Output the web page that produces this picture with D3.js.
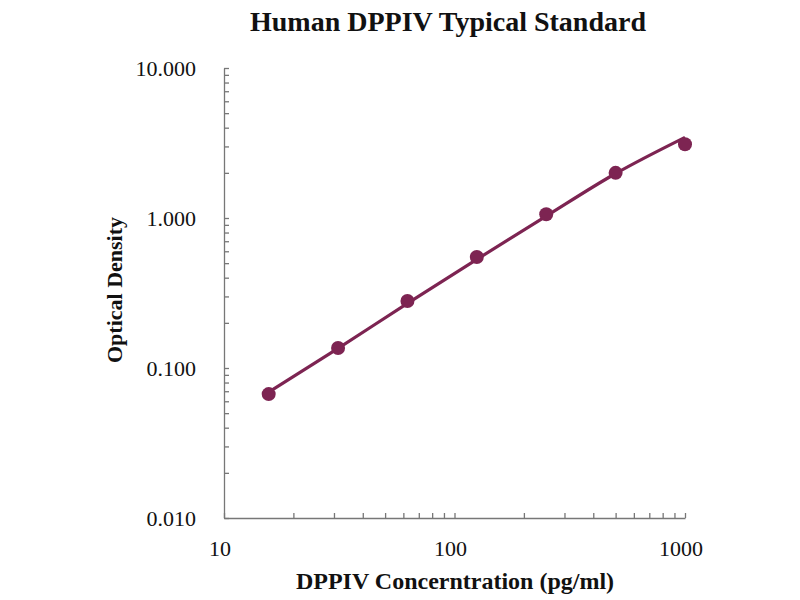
<!DOCTYPE html>
<html>
<head>
<meta charset="utf-8">
<script src="https://cdn.jsdelivr.net/npm/d3@7"></script>
<style>
  body { margin: 0; background: #fff; }
  text { font-family: "Liberation Serif", "Times New Roman", serif; fill: #111; }
</style>
</head>
<body>
<div id="chart"></div>
<script>
// standard concentrations (pg/ml) and measured OD
let concentrations = [15.625, 31.25, 62.5, 125, 250, 500, 1000];
let odValues = [0.067, 0.136, 0.28, 0.55, 1.06, 2.0, 3.1];
// fitted curve
let fitValues = [0.069, 0.135, 0.27, 0.53, 1.03, 1.98, 3.45];

let xTickValues = [10, 100, 1000];
let yTickValues = [0.01, 0.1, 1, 10];

let width = 800,
    height = 600,
    margin = {left: 224, top: 68, right: 115, bottom: 82},
    plotWidth = width - margin.left - margin.right,
    plotHeight = height - margin.top - margin.bottom,
    mainColor = '#7d2452';

let svg = d3.select('#chart').append('svg')
    .attr('width', width)
    .attr('height', height);

let g = svg.append('g')
    .attr('transform', `translate(${margin.left}, ${margin.top})`);

let xScale = d3.scaleLog()
    .domain([10, 1000])
    .range([0, plotWidth]);

let yScale = d3.scaleLog()
    .domain([0.01, 10])
    .range([plotHeight, 0]);

// all ticks (major + minor) drawn inside the plot
let xAllTicks = xScale.ticks();
let yAllTicks = yScale.ticks();

let xAxis = d3.axisBottom(xScale)
    .tickValues(xAllTicks)
    .tickSizeInner(-5)
    .tickSizeOuter(0)
    .tickFormat('');

let yAxis = d3.axisLeft(yScale)
    .tickValues(yAllTicks)
    .tickSizeInner(-5)
    .tickSizeOuter(0)
    .tickFormat('');

g.append('g')
    .attr('transform', `translate(0, ${plotHeight})`)
    .call(xAxis);

g.append('g')
    .call(yAxis);

g.selectAll('.domain, .tick line')
    .attr('stroke', '#777')
    .attr('stroke-width', 1.3);

// tick labels
g.append('g').selectAll('text')
    .data(xTickValues)
    .enter().append('text')
    .attr('x', d => xScale(d) - 4)
    .attr('y', plotHeight + 38)
    .attr('text-anchor', 'middle')
    .style('font-size', '22px')
    .text(d => d);

g.append('g').selectAll('text')
    .data(yTickValues)
    .enter().append('text')
    .attr('x', -28)
    .attr('y', d => yScale(d) + 8)
    .attr('text-anchor', 'end')
    .style('font-size', '22px')
    .text(d => d3.format('.3f')(d));

// fitted line
let line = d3.line()
    .x((d, i) => xScale(concentrations[i]))
    .y(d => yScale(d))
    .curve(d3.curveMonotoneX);

g.append('path')
    .datum(fitValues)
    .attr('d', line)
    .attr('fill', 'none')
    .attr('stroke', mainColor)
    .attr('stroke-width', 3.2);

g.append('g').selectAll('circle')
    .data(odValues)
    .enter().append('circle')
    .attr('cx', (d, i) => xScale(concentrations[i]))
    .attr('cy', d => yScale(d))
    .attr('r', 7)
    .attr('fill', mainColor);

// titles
svg.append('text')
    .attr('x', 448)
    .attr('y', 31)
    .attr('text-anchor', 'middle')
    .style('font-size', '28px')
    .style('font-weight', 'bold')
    .text('Human DPPIV Typical Standard');

svg.append('text')
    .attr('x', 455)
    .attr('y', 589)
    .attr('text-anchor', 'middle')
    .style('font-size', '24px')
    .style('font-weight', 'bold')
    .text('DPPIV Concerntration (pg/ml)');

svg.append('text')
    .attr('transform', 'translate(122, 290) rotate(-90)')
    .attr('text-anchor', 'middle')
    .style('font-size', '22px')
    .style('font-weight', 'bold')
    .text('Optical Density');
</script>
</body>
</html>
